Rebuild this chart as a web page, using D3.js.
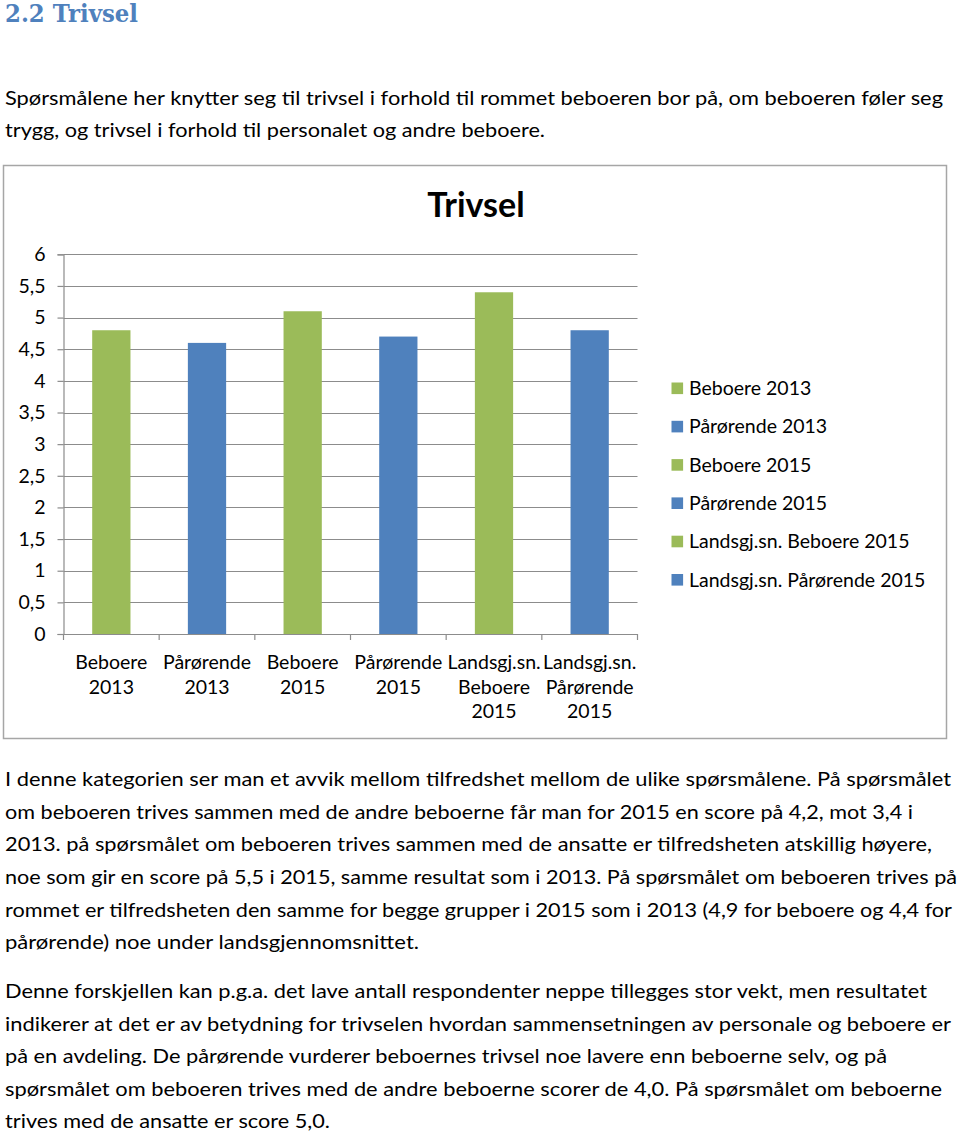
<!DOCTYPE html>
<html>
<head>
<meta charset="utf-8">
<script src="https://cdn.jsdelivr.net/npm/d3@7"></script>
<style>
  html, body { margin: 0; padding: 0; background: #fff; }
  svg { display: block; }
</style>
</head>
<body>
<svg id="page" width="960" height="1135"></svg>
<script>
// ---------- Data ----------
const categories = [
  ["Beboere", "2013"],
  ["Pårørende", "2013"],
  ["Beboere", "2015"],
  ["Pårørende", "2015"],
  ["Landsgj.sn.", "Beboere", "2015"],
  ["Landsgj.sn.", "Pårørende", "2015"]
];
const seriesNames = [
  "Beboere 2013", "Pårørende 2013", "Beboere 2015",
  "Pårørende 2015", "Landsgj.sn. Beboere 2015", "Landsgj.sn. Pårørende 2015"
];
const values = [4.8, 4.6, 5.1, 4.7, 5.4, 4.8];
const seriesColors = ["#9BBB59", "#4F81BD", "#9BBB59", "#4F81BD", "#9BBB59", "#4F81BD"];
const yTicks = [0, 0.5, 1, 1.5, 2, 2.5, 3, 3.5, 4, 4.5, 5, 5.5, 6];
const chartTitle = "Trivsel";
const heading = "2.2 Trivsel";

const introLines = [
  ["Spørsmålene her knytter seg til trivsel i forhold til rommet beboeren bor på, om beboeren føler seg", 105, 938],
  ["trygg, og trivsel i forhold til personalet og andre beboere.", 137, 540]
];
const para2Lines = [
  ["I denne kategorien ser man et avvik mellom tilfredshet mellom de ulike spørsmålene. På spørsmålet", 786, 946],
  ["om beboeren trives sammen med de andre beboerne får man for 2015 en score på 4,2, mot 3,4 i", 818.5, 908],
  ["2013. på spørsmålet om beboeren trives sammen med de ansatte er tilfredsheten atskillig høyere,", 851, 927],
  ["noe som gir en score på 5,5 i 2015, samme resultat som i 2013. På spørsmålet om beboeren trives på", 884, 952],
  ["rommet er tilfredsheten den samme for begge grupper i 2015 som i 2013 (4,9 for beboere og 4,4 for", 916.5, 947],
  ["pårørende) noe under landsgjennomsnittet.", 949, 414]
];
const para3Lines = [
  ["Denne forskjellen kan p.g.a. det lave antall respondenter neppe tillegges stor vekt, men resultatet", 998, 922],
  ["indikerer at det er av betydning for trivselen hvordan sammensetningen av personale og beboere er", 1030.5, 946],
  ["på en avdeling. De pårørende vurderer beboernes trivsel noe lavere enn beboerne selv, og på", 1063, 882],
  ["spørsmålet om beboeren trives med de andre beboerne scorer de 4,0. På spørsmålet om beboerne", 1095.5, 937],
  ["trives med de ansatte er score 5,0.", 1128, 325]
];

// ---------- Drawing ----------
const svg = d3.select("#page");
const FONT = "Lato, 'Open Sans', sans-serif";
const CHART_FS = 19.5;
const locale = d3.formatLocale({ decimal: ",", thousands: " ", grouping: [3], currency: ["", " kr"] });
const fmt = v => locale.format("")(v);

// heading
svg.append("text")
  .attr("x", 5).attr("y", 22)
  .attr("font-family", "'DejaVu Serif', 'Liberation Serif', serif")
  .attr("font-weight", "bold")
  .attr("font-size", 23.5)
  .attr("fill", "#4F81BD")
  .attr("textLength", 133)
  .attr("lengthAdjust", "spacingAndGlyphs")
  .text(heading);

function drawLines(lines) {
  svg.append("g").selectAll("text").data(lines).join("text")
    .attr("x", 5)
    .attr("y", d => d[1])
    .attr("font-family", FONT)
    .attr("font-size", 18.8)
    .attr("fill", "#000")
    .attr("textLength", d => d[2])
    .attr("lengthAdjust", "spacingAndGlyphs")
    .text(d => d[0]);
}
drawLines(introLines);
drawLines(para2Lines);
drawLines(para3Lines);

// chart frame
svg.append("rect")
  .attr("x", 3.5).attr("y", 165.5)
  .attr("width", 943).attr("height", 573)
  .attr("fill", "#fff")
  .attr("stroke", "#a6a6a6")
  .attr("stroke-width", 1.5);

const plot = { left: 63.5, right: 637.5, top: 254.3, bottom: 634 };

const xBand = d3.scaleBand()
  .domain(d3.range(categories.length))
  .range([plot.left, plot.right]);
const y = d3.scaleLinear().domain([0, 6]).range([plot.bottom, plot.top]);

// gridlines
svg.append("g").selectAll("line").data(yTicks.filter(t => t > 0)).join("line")
  .attr("x1", plot.left).attr("x2", plot.right)
  .attr("y1", d => Math.round(y(d)) + 0.5).attr("y2", d => Math.round(y(d)) + 0.5)
  .attr("stroke", "#8c8c8c").attr("stroke-width", 1.2);

// bars
svg.append("g").selectAll("rect").data(values).join("rect")
  .attr("x", (d, i) => xBand(i) + xBand.bandwidth() * 0.3)
  .attr("width", xBand.bandwidth() * 0.4)
  .attr("y", d => y(d))
  .attr("height", d => y(0) - y(d))
  .attr("fill", (d, i) => seriesColors[i]);

// y axis
const yAxis = svg.append("g")
  .attr("transform", `translate(${plot.left},0)`)
  .call(d3.axisLeft(y).tickValues(yTicks).tickFormat(fmt).tickSize(6).tickPadding(12));
yAxis.select(".domain").attr("stroke", "#8c8c8c").attr("stroke-width", 1.2);
yAxis.selectAll(".tick line").attr("stroke", "#8c8c8c").attr("stroke-width", 1.2);
yAxis.selectAll(".tick text")
  .attr("font-family", FONT).attr("font-size", CHART_FS).attr("fill", "#000");

// x axis
const xAxisG = svg.append("g").attr("transform", `translate(0,${plot.bottom})`);
xAxisG.append("line")
  .attr("x1", plot.left).attr("x2", plot.right).attr("y1", 0.5).attr("y2", 0.5)
  .attr("stroke", "#8c8c8c").attr("stroke-width", 1.2);
const boundaries = d3.range(categories.length + 1).map(i => i < categories.length ? xBand(i) : xBand(i - 1) + xBand.bandwidth());
xAxisG.selectAll("line.tk").data(boundaries).join("line")
  .attr("class", "tk")
  .attr("x1", d => d).attr("x2", d => d)
  .attr("y1", 0).attr("y2", 6)
  .attr("stroke", "#8c8c8c").attr("stroke-width", 1.2);

const labelG = svg.append("g");
categories.forEach((lines, i) => {
  const cx = xBand(i) + xBand.bandwidth() / 2;
  const t = labelG.append("text")
    .attr("text-anchor", "middle")
    .attr("font-family", FONT).attr("font-size", CHART_FS).attr("fill", "#000");
  lines.forEach((ln, j) => {
    t.append("tspan").attr("x", cx).attr("y", 669 + j * 24.6).text(ln);
  });
});

// title
svg.append("text")
  .attr("x", 476).attr("y", 216.5)
  .attr("text-anchor", "middle")
  .attr("font-family", FONT).attr("font-weight", "bold")
  .attr("font-size", 34).attr("fill", "#000")
  .text(chartTitle);

// legend
const legend = svg.append("g");
seriesNames.forEach((name, i) => {
  const cy = 388.3 + i * 38.3;
  legend.append("rect")
    .attr("x", 671.5).attr("y", cy - 5.8)
    .attr("width", 11.6).attr("height", 11.6)
    .attr("fill", seriesColors[i]);
  legend.append("text")
    .attr("x", 689).attr("y", cy)
    .attr("dy", "0.35em")
    .attr("font-family", FONT).attr("font-size", CHART_FS).attr("fill", "#000")
    .text(name);
});
</script>
</body>
</html>
